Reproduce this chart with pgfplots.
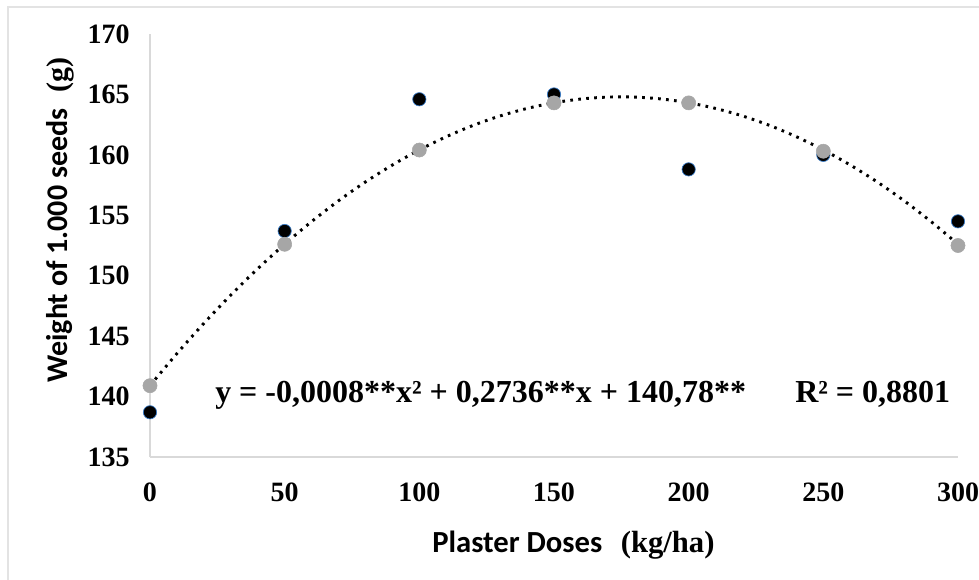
\documentclass[border=0pt]{standalone}
\usepackage{pgfplots}
\pgfplotsset{compat=1.18}
\usepackage{fontspec}
\setmainfont{Liberation Serif}
\newfontfamily\carlito{Carlito}
\definecolor{axisgrey}{HTML}{D9D9D9}
\definecolor{framegrey}{HTML}{E3E3E3}
\definecolor{ptgrey}{HTML}{A6A6A6}
\definecolor{edgeblue}{HTML}{3A7DC9}
\begin{document}
\begin{tikzpicture}
\useasboundingbox (-112.5pt,-91.5pt) rectangle (621.75pt,342.75pt);
\draw[framegrey, line width=1.2pt] (-106.5pt,-95pt) -- (-106.5pt,337.5pt) -- (630pt,337.5pt);
\begin{axis}[
  at={(0pt,0pt)}, anchor=south west,
  scale only axis, width=606pt, height=317.25pt,
  xmin=0, xmax=300, ymin=135, ymax=170,
  axis x line=bottom, axis y line=left,
  axis line style={-, draw=axisgrey, line width=1.5pt},
  xtick={0,50,...,300}, ytick={135,140,...,170},
  major tick length=0pt,
  /pgf/number format/assume math mode=true,
  tick label style={font=\fontsize{21}{25}\selectfont\bfseries},
  yticklabel style={anchor=east, inner sep=0pt, xshift=-15pt},
  xticklabel style={anchor=north, inner sep=0pt, yshift=-19pt},
  clip=false,
]
\addplot[only marks, mark=*, mark size=5pt, mark options={fill=black, draw=edgeblue, line width=0.5pt}]
  coordinates {(0,138.7) (50,153.7) (100,164.6) (150,165.0) (200,158.8) (250,160.0) (300,154.5)};
\addplot[only marks, mark=*, mark size=5.3pt, mark options={fill=ptgrey, draw=ptgrey}]
  coordinates {(0,140.9) (50,152.6) (100,160.4) (150,164.3) (200,164.3) (250,160.3) (300,152.5)};
\addplot[black, line width=2.2pt, dash pattern=on 2pt off 4pt, smooth]
  coordinates {(0,140.91) (10,143.56) (20,146.06) (30,148.40) (40,150.58) (50,152.61)
  (60,154.48) (70,156.20) (80,157.76) (90,159.16) (100,160.41) (110,161.50) (120,162.44)
  (130,163.22) (140,163.84) (150,164.31) (160,164.62) (170,164.78) (180,164.78) (190,164.62)
  (200,164.31) (210,163.84) (220,163.22) (230,162.44) (240,161.50) (250,160.41) (260,159.16)
  (270,157.76) (280,156.20) (290,154.48) (300,152.61)};
\end{axis}
\node[anchor=base west, inner sep=0pt, font=\fontsize{24}{28}\selectfont\bfseries] at (48.75pt,40.5pt)
  {y = -0,0008**x² + 0,2736**x + 140,78**};
\node[anchor=base west, inner sep=0pt, font=\fontsize{24}{28}\selectfont\bfseries] at (483.75pt,40.5pt)
  {R² = 0,8801};
\node[anchor=base west, inner sep=0pt, font=\fontsize{23}{28}\selectfont\bfseries] at (211.5pt,-71.25pt)
  {{\carlito Plaster Doses}\hspace{0.6em}(kg/ha)};
\node[anchor=base west, inner sep=0pt, rotate=90, font=\fontsize{22.5}{28}\selectfont\bfseries] at (-61.5pt,55.5pt)
  {{\carlito Weight of 1.000 seeds}\hspace{0.55em}(g)};
\end{tikzpicture}
\end{document}
